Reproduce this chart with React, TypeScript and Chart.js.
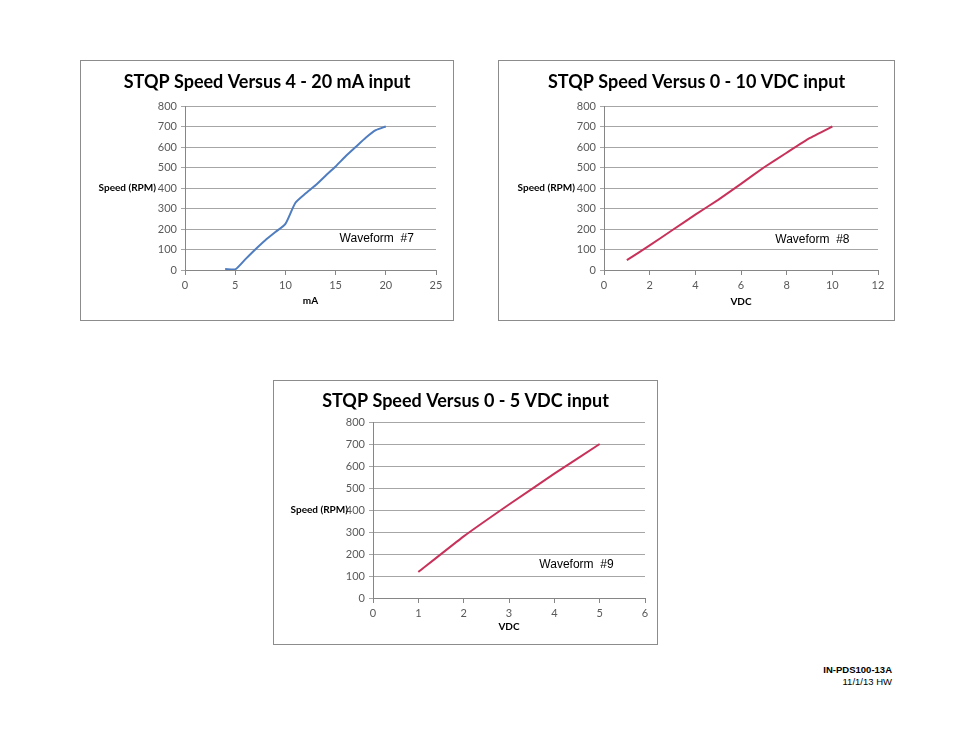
import React, { useEffect, useRef } from 'react';
import { Chart, registerables } from 'chart.js';

Chart.register(...registerables);

// waveform #7: 4-20 mA input
const maInput = [4, 5, 6, 7, 8, 9, 10, 11, 12, 13, 14, 15, 16, 17, 18, 19, 20];
const maSpeed = [5, 3, 52, 100, 145, 185, 225, 328, 373, 413, 460, 505, 555, 600, 645, 682, 700];

// waveform #8: 0-10 VDC input
const vdc10Input = [1, 2, 3, 4, 5, 6, 7, 8, 9, 10];
const vdc10Speed = [48, 120, 195, 270, 342, 420, 500, 572, 643, 700];

// waveform #9: 0-5 VDC input
const vdc5Input = [1, 2, 3, 4, 5];
const vdc5Speed = [118, 280, 425, 565, 700];

const BLUE = '#4F7DBF';
const RED = '#C8325A';
const GRID = '#A6A6A6';
const AXIS = '#868686';
const TICK = '#595959';

const extrasPlugin = {
    id: 'extras',
    afterDraw(chart: any, _args: any, opts: any) {
        const { ctx, chartArea, scales } = chart;
        ctx.save();
        ctx.fillStyle = '#000';
        ctx.textBaseline = 'middle';

        ctx.font = 'bold 18px Lato';
        ctx.textAlign = 'center';
        ctx.fillText(opts.title, chart.width / 2, opts.titleY);

        ctx.font = 'bold 10px Lato';
        ctx.textAlign = 'right';
        ctx.fillText('Speed (RPM)', chartArea.left - opts.yLabelGap, scales.y.getPixelForValue(400));

        ctx.font = '12px "Liberation Sans", Arial';
        ctx.textAlign = 'left';
        ctx.fillText(opts.note, scales.x.getPixelForValue(opts.noteX), scales.y.getPixelForValue(opts.noteY));
        ctx.restore();
    },
};

interface Props {
    left: number;
    top: number;
    width: number;
    height: number;
    xs: number[];
    ys: number[];
    color: string;
    xMax: number;
    xStep: number;
    xTitle: string;
    xTitlePad: number;
    plotLeft: number;
    plotTop: number;
    padRight: number;
    xAxisHeight: number;
    title: string;
    titleY: number;
    yLabelGap: number;
    note: string;
    noteX: number;
    noteY: number;
    tension: number;
}

const SpeedChart: React.FC<Props> = (p) => {
    const canvasRef = useRef<HTMLCanvasElement>(null);
    const cw = p.width - 2;
    const ch = p.height - 2;

    useEffect(() => {
        if (!canvasRef.current) return;
        const ctx = canvasRef.current.getContext('2d');
        if (!ctx) return;
        const chart = new Chart(ctx, {
            type: 'line',
            data: {
                datasets: [{
                    data: p.xs.map((x, i) => ({ x, y: p.ys[i] })),
                    borderColor: p.color,
                    borderWidth: 2,
                    pointRadius: 0,
                    fill: false,
                    tension: p.tension,
                }],
            },
            options: {
                responsive: false,
                animation: false,
                layout: { padding: { left: 0, top: p.plotTop, right: p.padRight, bottom: 0 } },
                plugins: {
                    legend: { display: false },
                    tooltip: { enabled: false },
                    extras: {
                        title: p.title,
                        titleY: p.titleY,
                        yLabelGap: p.yLabelGap,
                        note: p.note,
                        noteX: p.noteX,
                        noteY: p.noteY,
                    },
                } as any,
                scales: {
                    x: {
                        type: 'linear',
                        min: 0,
                        max: p.xMax,
                        afterFit: (s: any) => { s.height = p.xAxisHeight; },
                        ticks: { stepSize: p.xStep, color: TICK, font: { family: 'Lato', size: 11 }, padding: 4 },
                        grid: { drawOnChartArea: false, drawTicks: true, tickLength: 5, color: AXIS },
                        border: { display: true, color: AXIS },
                        title: {
                            display: true,
                            text: p.xTitle,
                            color: '#000',
                            font: { family: 'Lato', size: 10, weight: 'bold' },
                            padding: { top: 0, bottom: p.xTitlePad },
                        },
                    },
                    y: {
                        min: 0,
                        max: 800,
                        afterFit: (s: any) => { s.width = p.plotLeft; },
                        ticks: { stepSize: 100, color: TICK, font: { family: 'Lato', size: 11 }, padding: 4 },
                        grid: { color: GRID, tickLength: 4 },
                        border: { display: true, color: AXIS },
                    },
                },
            },
            plugins: [extrasPlugin],
        });
        return () => {
            chart.destroy();
        };
    }, []);

    return (
        <div
            style={{
                position: 'absolute',
                left: p.left,
                top: p.top,
                width: cw,
                height: ch,
                border: '1px solid #8C8C8C',
                background: '#fff',
            }}
        >
            <canvas ref={canvasRef} width={cw} height={ch} style={{ display: 'block', width: cw, height: ch }} />
        </div>
    );
};

const App: React.FC = () => {
    return (
        <div style={{ position: 'absolute', left: 0, top: 0, width: 954, height: 738, background: '#fff' }}>
            <SpeedChart
                left={80} top={60} width={374} height={261}
                xs={maInput} ys={maSpeed} color={BLUE}
                xMax={25} xStep={5} xTitle="mA" xTitlePad={13}
                plotLeft={104} plotTop={45} padRight={17} xAxisHeight={50}
                title="STQP Speed Versus 4 - 20 mA input" titleY={21}
                yLabelGap={29}
                note="Waveform  #7" noteX={15.4} noteY={151}
                tension={0.2}
            />
            <SpeedChart
                left={498} top={60} width={397} height={261}
                xs={vdc10Input} ys={vdc10Speed} color={RED}
                xMax={12} xStep={2} xTitle="VDC" xTitlePad={12}
                plotLeft={105} plotTop={45} padRight={16} xAxisHeight={50}
                title="STQP Speed Versus 0 - 10 VDC input" titleY={21}
                yLabelGap={29}
                note="Waveform  #8" noteX={7.5} noteY={150}
                tension={0.1}
            />
            <SpeedChart
                left={273} top={380} width={385} height={265}
                xs={vdc5Input} ys={vdc5Speed} color={RED}
                xMax={6} xStep={1} xTitle="VDC" xTitlePad={11}
                plotLeft={99} plotTop={41} padRight={12} xAxisHeight={46}
                title="STQP Speed Versus 0 - 5 VDC input" titleY={20}
                yLabelGap={25}
                note="Waveform  #9" noteX={3.67} noteY={153}
                tension={0.1}
            />
            <div
                style={{
                    position: 'absolute',
                    left: 0,
                    top: 664,
                    width: 892,
                    textAlign: 'right',
                    fontFamily: '"Liberation Sans", Arial, sans-serif',
                    fontSize: 9.5,
                    lineHeight: '12px',
                    color: '#000',
                }}
            >
                <div style={{ fontWeight: 'bold' }}>IN-PDS100-13A</div>
                <div>11/1/13 HW</div>
            </div>
        </div>
    );
};

export default App;
